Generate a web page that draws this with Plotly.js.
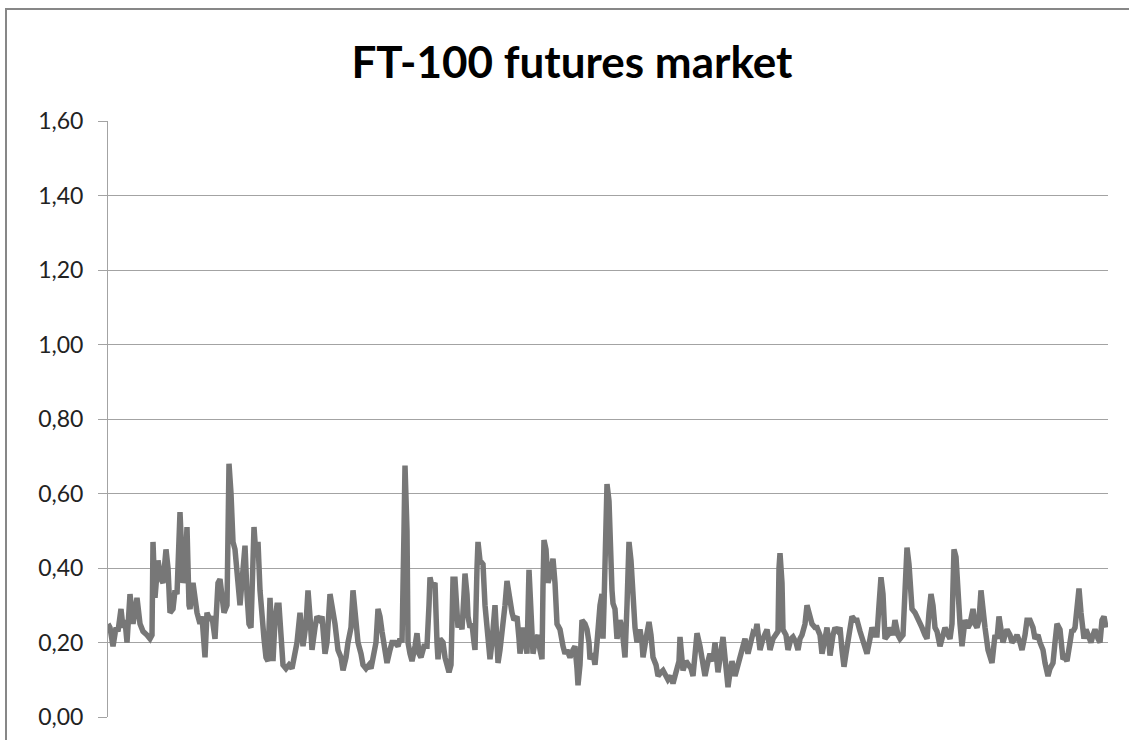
<!DOCTYPE html>
<html>
<head>
<meta charset="utf-8">
<script src="https://cdn.plot.ly/plotly-3.0.1.min.js"></script>
<style>
  html, body { margin: 0; padding: 0; background: #ffffff; }
  #wrap { position: relative; width: 1129px; height: 740px; overflow: hidden; }
  #chart { position: absolute; left: 0; top: 0; width: 1129px; height: 740px; }
  #frame { position: absolute; left: 5px; top: 8px; width: 1140px; height: 760px;
           border: 2px solid #878787; pointer-events: none; box-sizing: border-box; }
</style>
</head>
<body>
<div id="wrap">
  <div id="chart"></div>
  <div id="frame"></div>
</div>
<script>
// Chart text
const chartTitle = "FT-100 futures market";
const yTickValues = [0, 0.2, 0.4, 0.6, 0.8, 1.0, 1.2, 1.4, 1.6];
const yTickLabels = ["0,00", "0,20", "0,40", "0,60", "0,80", "1,00", "1,20", "1,40", "1,60"];

const obs = [
  0,2,5,8,10,13,15,17,19,22,25,29,32,35,39,42,44,45,47,50,53,55,58,60,62,65,67,69,72,74,75,77,79,81,82,85,87,89,92,94,97,99,102,104,107,110,112,114,116,119,121,123,125,127,129,131,132,135,137,139,141,143,146,148,150,152,154,156,158,160,162,164,165,
  167,169,171,173,175,178,181,184,187,189,192,194,195,198,200,202,204,207,209,212,214,217,219,222,224,227,230,233,235,238,240,243,245,247,250,253,255,258,261,263,265,268,270,272,274,277,279,282,284,287,290,292,294,296,297,299,300,302,304,307,309,311,313,316,319,321,322,324,327,329,330,
  332,335,337,339,341,343,345,347,349,350,352,354,356,357,359,360,362,364,366,367,369,370,372,375,377,379,381,382,384,387,389,390,392,395,397,399,401,404,406,409,411,412,415,417,419,421,423,425,427,430,432,434,435,436,438,440,442,445,447,449,451,452,455,457,459,462,465,467,469,470,472,474,477,479,481,482,485,487,489,490,492,494,
  495,496,498,499,501,502,504,505,507,509,512,514,517,519,521,523,525,527,529,532,534,535,538,541,543,545,548,550,553,555,558,560,563,565,567,569,571,572,574,575,578,580,583,585,587,589,592,594,597,600,602,605,607,610,612,615,617,619,620,622,624,627,630,632,635,637,640,643,645,647,649,652,655,659,
  662,665,668,670,671,672,674,675,678,680,683,685,688,690,692,694,697,699,701,704,707,709,712,714,717,719,721,722,725,727,730,732,734,736,738,740,742,744,747,749,752,754,757,759,762,764,767,769,771,773,775,777,780,782,785,787,790,792,795,797,799,801,804,807,809,812,814,817,819,821,823,825,827,
  829,832,835,837,840,842,844,845,846,848,850,852,854,857,860,862,865,867,869,871,873,875,877,880,882,884,887,889,891,893,895,897,899,902,904,907,909,912,914,917,919,922,925,927,930,932,935,937,940,942,945,947,949,952,954,955,957,959,962,964,965,967,969,971,973,975,976,978,980,983,985,987,990,992,994,996,998,1000
];

const values = [
  0.25,0.24,0.19,0.24,0.23,0.29,0.24,0.26,0.20,0.33,0.25,0.32,0.25,0.23,0.22,0.21,0.22,0.47,0.32,0.42,0.37,0.36,0.45,0.40,0.28,0.29,0.34,0.33,0.55,0.45,0.36,0.38,0.51,0.30,0.29,0.36,0.32,0.28,0.25,0.27,0.16,0.28,0.26,0.27,0.21,0.36,0.37,0.33,0.28,0.30,0.68,0.60,0.47,0.45,0.36,0.33,0.30,0.40,0.46,0.33,0.25,0.24,0.51,0.43,0.47,0.34,0.25,0.21,0.16,0.15,0.32,0.20,0.15,
  0.26,0.30,0.30,0.19,0.14,0.13,0.14,0.13,0.17,0.20,0.28,0.22,0.19,0.25,0.34,0.27,0.18,0.24,0.27,0.26,0.27,0.17,0.20,0.33,0.30,0.25,0.18,0.16,0.125,0.16,0.20,0.24,0.34,0.29,0.20,0.17,0.14,0.13,0.14,0.13,0.155,0.20,0.29,0.27,0.23,0.18,0.145,0.18,0.20,0.20,0.19,0.21,0.20,0.50,0.675,0.50,0.20,0.17,0.15,0.19,0.225,0.17,0.16,0.19,0.19,0.30,0.375,0.35,0.36,0.20,0.155,
  0.21,0.20,0.16,0.13,0.12,0.14,0.37,0.37,0.30,0.24,0.26,0.235,0.33,0.385,0.33,0.27,0.24,0.25,0.20,0.18,0.40,0.47,0.42,0.41,0.30,0.235,0.18,0.155,0.20,0.30,0.20,0.145,0.18,0.24,0.30,0.365,0.32,0.28,0.26,0.27,0.21,0.17,0.24,0.21,0.17,0.395,0.30,0.17,0.20,0.22,0.18,0.155,0.35,0.475,0.45,0.36,0.38,0.425,0.36,0.25,0.24,0.235,0.19,0.17,0.18,0.16,0.18,0.19,0.13,0.085,0.14,0.26,0.25,0.235,0.20,0.155,0.17,0.14,0.20,0.25,0.30,0.33,
  0.21,0.30,0.55,0.625,0.58,0.45,0.34,0.305,0.29,0.21,0.26,0.24,0.16,0.30,0.47,0.42,0.29,0.24,0.20,0.235,0.20,0.16,0.21,0.255,0.22,0.16,0.14,0.11,0.12,0.125,0.11,0.10,0.11,0.09,0.11,0.125,0.15,0.215,0.16,0.125,0.15,0.14,0.13,0.11,0.16,0.225,0.19,0.16,0.11,0.15,0.17,0.15,0.20,0.12,0.16,0.215,0.16,0.10,0.08,0.12,0.15,0.11,0.14,0.17,0.20,0.21,0.17,0.20,0.225,0.22,0.25,0.18,0.21,0.235,
  0.18,0.21,0.22,0.23,0.40,0.44,0.36,0.235,0.22,0.18,0.21,0.215,0.20,0.18,0.21,0.22,0.25,0.30,0.28,0.25,0.24,0.24,0.22,0.17,0.21,0.24,0.20,0.165,0.22,0.24,0.23,0.24,0.18,0.135,0.17,0.21,0.25,0.27,0.26,0.26,0.23,0.21,0.19,0.17,0.21,0.24,0.22,0.22,0.30,0.375,0.33,0.21,0.22,0.24,0.22,0.26,0.22,0.21,0.22,0.38,0.455,0.41,0.29,0.28,0.27,0.25,0.24,0.22,0.21,0.28,0.33,0.30,0.24,
  0.23,0.19,0.22,0.24,0.22,0.21,0.25,0.40,0.45,0.43,0.315,0.25,0.19,0.26,0.24,0.25,0.29,0.25,0.24,0.26,0.34,0.28,0.24,0.18,0.16,0.145,0.22,0.21,0.27,0.24,0.20,0.22,0.235,0.22,0.20,0.21,0.22,0.20,0.18,0.22,0.26,0.26,0.24,0.21,0.22,0.20,0.18,0.145,0.11,0.13,0.145,0.20,0.25,0.235,0.18,0.155,0.16,0.15,0.20,0.235,0.23,0.24,0.30,0.345,0.28,0.22,0.21,0.235,0.22,0.20,0.22,0.235,0.21,0.20,0.26,0.27,0.24
];

const trace = {
  x: obs,
  y: values,
  type: "scatter",
  mode: "lines",
  line: { color: "#777777", width: 5.5, shape: "linear" },
  hoverinfo: "y",
  showlegend: false
};

const layout = {
  width: 1129,
  height: 740,
  margin: { l: 108, r: 21, t: 121, b: 23, pad: 0 },
  paper_bgcolor: "#ffffff",
  plot_bgcolor: "#ffffff",
  separators: ", ",
  title: {
    text: "<b>" + chartTitle + "</b>",
    font: { family: "Lato, 'Open Sans', sans-serif", size: 44, color: "#000000" },
    x: 0.5066, xref: "container", xanchor: "center",
    y: 0.916, yref: "container", yanchor: "middle"
  },
  xaxis: {
    range: [0, 1000],
    showgrid: false,
    zeroline: false,
    showline: false,
    showticklabels: false,
    ticks: ""
  },
  yaxis: {
    range: [0, 1.6],
    tickvals: yTickValues,
    ticktext: yTickLabels,
    showgrid: true,
    gridcolor: "#a3a3a3",
    gridwidth: 1,
    zeroline: false,
    showline: true,
    linecolor: "#a3a3a3",
    linewidth: 1,
    ticks: "outside",
    ticklen: 9,
    tickcolor: "#a3a3a3",
    tickwidth: 1,
    ticklabelstandoff: 10,
    tickfont: { family: "Lato, 'Open Sans', sans-serif", size: 23, color: "#222222" }
  }
};

Plotly.newPlot("chart", [trace], layout, { displayModeBar: false, staticPlot: true });
</script>
</body>
</html>
